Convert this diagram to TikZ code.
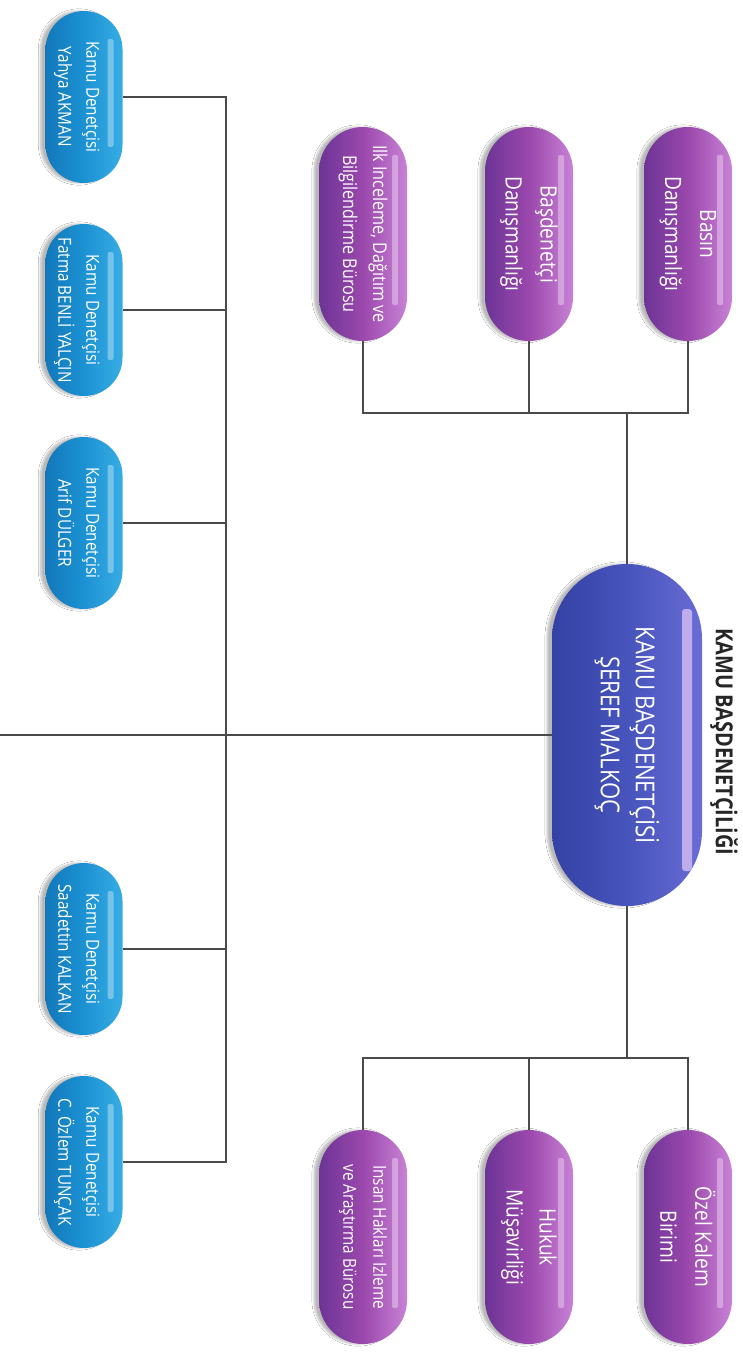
\documentclass[tikz,border=0pt]{standalone}
\usepackage{fontspec}
\setmainfont{Open Sans}[FakeStretch=0.85]
\usetikzlibrary{shapes.misc,shadows.blur}
\definecolor{purD}{RGB}{108,52,150}
\definecolor{purM}{RGB}{155,72,172}
\definecolor{purL}{RGB}{200,130,214}
\definecolor{bluD}{RGB}{18,120,186}
\definecolor{bluM}{RGB}{28,146,211}
\definecolor{bluL}{RGB}{55,172,228}
\definecolor{cenD}{RGB}{52,66,165}
\definecolor{cenM}{RGB}{70,84,188}
\definecolor{cenL}{RGB}{105,108,212}
\definecolor{cenH}{RGB}{215,190,245}
\definecolor{wire}{RGB}{75,75,75}
\newcommand{\shiftedtext}[2]{\raisebox{#1}[\height][\depth]{\begin{tabular}{@{}c@{}}#2\end{tabular}}}
\tikzset{
  pill/.style={rounded rectangle, rotate=-90, align=center, text=white, inner sep=0pt,
    blur shadow={shadow xshift=-5pt, shadow yshift=0pt, shadow opacity=28, shadow blur steps=6},
    path picture={\fill[white,opacity=0.35,rounded corners=2pt]
      ([xshift=28pt,yshift=-9pt]path picture bounding box.north east) rectangle
      ([xshift=-36pt,yshift=-15pt]path picture bounding box.south east);}},
  purplepill/.style={pill, minimum width=214pt, minimum height=88pt,
    left color=purD, right color=purL, middle color=purM},
  bluepill/.style={pill, minimum width=172pt, minimum height=77pt,
    left color=bluD, right color=bluL, middle color=bluM,
    font=\fontsize{18}{28}\selectfont},
  centralpill/.style={rounded rectangle, rotate=-90, align=center, text=white, inner sep=0pt,
    blur shadow={shadow xshift=-5pt, shadow yshift=0pt, shadow opacity=28, shadow blur steps=6},
    minimum width=342pt, minimum height=150pt,
    left color=cenD, right color=cenL, middle color=cenM,
    font=\fontsize{26}{35}\selectfont,
    path picture={\fill[cenH,opacity=0.8,rounded corners=3pt]
      ([xshift=45pt,yshift=-10pt]path picture bounding box.north east) rectangle
      ([xshift=-35pt,yshift=-20pt]path picture bounding box.south east);}},
  wireline/.style={draw=wire, line width=1.6pt},
}
\begin{document}
\begin{tikzpicture}[x=1pt,y=-1pt]
\useasboundingbox (0,0) rectangle (742,1352);
\fill[white] (0,0) rectangle (742,1352);

% central
\node[centralpill] (central) at (627,735) {KAMU BAŞDENETÇİSİ\\ŞEREF MALKOÇ};
\node[rotate=-90, font=\bfseries\fontsize{23.5}{28}\selectfont, text=black!85] (title) at (724,742) {KAMU BAŞDENETÇİLİĞİ};

% top purple
\node[purplepill, font=\fontsize{19}{30}\selectfont] (ilk) at (363,234) {Ilk Inceleme, Dağıtım ve\\Bilgilendirme Bürosu};
\node[purplepill, font=\fontsize{22.5}{35}\selectfont] (basd) at (529,234) {Başdenetçi\\Danışmanlığı};
\node[purplepill, font=\fontsize{22.5}{35}\selectfont] (basin) at (688,234) {Basın\\Danışmanlığı};

% bottom purple
\node[purplepill, font=\fontsize{18}{30}\selectfont] (insan) at (363,1237) {Insan Hakları Izleme\\ve Araştırma Bürosu};
\node[purplepill, font=\fontsize{22.5}{33}\selectfont] (hukuk) at (529,1237) {Hukuk\\Müşavirliği};
\node[purplepill, font=\fontsize{22.5}{35}\selectfont] (ozel) at (688,1237) {Özel Kalem\\Birimi};

% blue
\node[bluepill] (b1) at (84,97) {\shiftedtext{-6pt}{Kamu Denetçisi\\Yahya AKMAN}};
\node[bluepill] (b2) at (84,310) {\shiftedtext{-6pt}{Kamu Denetçisi\\Fatma BENLİ YALÇIN}};
\node[bluepill] (b3) at (84,523) {\shiftedtext{-6pt}{Kamu Denetçisi\\Arif DÜLGER}};
\node[bluepill] (b4) at (84,949) {\shiftedtext{-6pt}{Kamu Denetçisi\\Saadettin KALKAN}};
\node[bluepill] (b5) at (84,1162) {\shiftedtext{-6pt}{Kamu Denetçisi\\C. Özlem TUNÇAK}};

% connectors
\coordinate (topbar) at (0,413);
\coordinate (botbar) at (0,1058);
\coordinate (spine) at (226,0);
\coordinate (leftend) at (0,735);

\draw[wireline] (ilk.east) -- (ilk.east |- topbar) -- (basin.east |- topbar) -- (basin.east);
\draw[wireline] (basd.east) -- (basd.east |- topbar);
\draw[wireline] (central.west) -- (central.west |- topbar);

\draw[wireline] (insan.west) -- (insan.west |- botbar) -- (ozel.west |- botbar) -- (ozel.west);
\draw[wireline] (hukuk.west) -- (hukuk.west |- botbar);
\draw[wireline] (central.east) -- (central.east |- botbar);

\draw[wireline] (b1.north) -- (b1.north -| spine) -- (b5.north -| spine) -- (b5.north);
\draw[wireline] (b2.north) -- (b2.north -| spine);
\draw[wireline] (b3.north) -- (b3.north -| spine);
\draw[wireline] (b4.north) -- (b4.north -| spine);
\draw[wireline] (leftend) -- (central.south);
\end{tikzpicture}
\end{document}
